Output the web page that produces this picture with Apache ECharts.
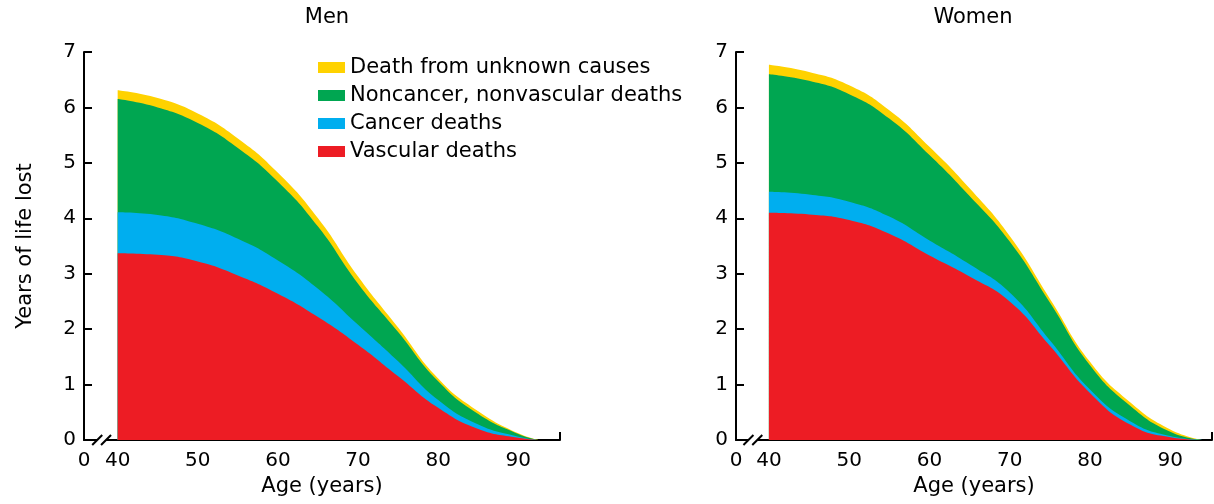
<!DOCTYPE html>
<html>
<head>
<meta charset="utf-8">
<script src="https://cdn.jsdelivr.net/npm/echarts@6/dist/echarts.min.js"></script>
<style>
  html, body { margin: 0; padding: 0; background: #fff; }
  #chart { width: 1214px; height: 504px; }
</style>
</head>
<body>
<div id="chart"></div>
<script>
// ages (x) for each panel
var menAges = [40, 45, 50, 55, 60, 65, 70, 75, 80, 85, 90, 92.5];
var womenAges = [40, 45, 50, 55, 60, 65, 70, 75, 80, 85, 90, 94];

// years of life lost by cause, bottom to top
var menVascular  = [3.37, 3.34, 3.22, 2.97, 2.64, 2.22, 1.72, 1.15, 0.58, 0.20, 0.04, 0];
var menCancer    = [0.74, 0.72, 0.68, 0.66, 0.60, 0.51, 0.36, 0.27, 0.14, 0.08, 0.02, 0];
var menNoncancer = [2.04, 1.94, 1.82, 1.64, 1.42, 1.12, 0.74, 0.53, 0.34, 0.19, 0.05, 0];
var menUnknown   = [0.16, 0.17, 0.17, 0.17, 0.16, 0.15, 0.13, 0.08, 0.05, 0.05, 0.01, 0];

var womenVascular  = [4.10, 4.07, 3.97, 3.72, 3.33, 2.95, 2.50, 1.70, 0.85, 0.28, 0.05, 0];
var womenCancer    = [0.38, 0.36, 0.33, 0.31, 0.27, 0.22, 0.16, 0.10, 0.06, 0.06, 0.02, 0];
var womenNoncancer = [2.12, 2.05, 1.94, 1.77, 1.54, 1.23, 0.92, 0.68, 0.44, 0.28, 0.08, 0];
var womenUnknown   = [0.17, 0.16, 0.16, 0.15, 0.15, 0.14, 0.10, 0.07, 0.06, 0.06, 0.04, 0];

var causes = ['Vascular deaths', 'Cancer deaths', 'Noncancer, nonvascular deaths', 'Death from unknown causes'];
var colors = ['#ED1C24', '#00AEEF', '#00A651', '#FFD200'];
var xTicks = [40, 50, 60, 70, 80, 90];

var FONT = 'DejaVu Sans';
var chart = echarts.init(document.getElementById('chart'));

// running totals, so each cause is drawn as an area down to 0 under the ones above it
function cumulative(sets) {
    var out = [], run = sets[0].map(function () { return 0; });
    sets.forEach(function (s) {
        run = run.map(function (v, i) { return +(v + s[i]).toFixed(3); });
        out.push(run);
    });
    return out;
}

function xAxisFor(idx, min) {
    return {
        gridIndex: idx,
        type: 'value',
        min: min,
        max: 95.2,
        name: 'Age (years)',
        nameLocation: 'middle',
        nameGap: 35,
        nameTextStyle: { fontFamily: FONT, fontSize: 21, color: '#000' },
        splitLine: { show: false },
        axisLine: { lineStyle: { color: '#000', width: 2 } },
        axisTick: { show: true, inside: true, length: 8, customValues: [95.2], lineStyle: { color: '#000', width: 2 } },
        axisLabel: {
            customValues: [min].concat(xTicks),
            margin: 11,
            fontFamily: FONT, fontSize: 20, color: '#000',
            formatter: function (v) { return v < 40 ? '0' : String(v); }
        }
    };
}

function yAxisFor(idx, withName) {
    return {
        gridIndex: idx,
        type: 'value',
        min: 0, max: 7, interval: 1,
        name: withName ? 'Years of life lost' : '',
        nameLocation: 'middle',
        nameGap: 48,
        nameTextStyle: { fontFamily: FONT, fontSize: 21, color: '#000' },
        splitLine: { show: false },
        axisLine: { show: true, lineStyle: { color: '#000', width: 2 } },
        axisTick: { show: true, inside: true, length: 8, lineStyle: { color: '#000', width: 2 } },
        axisLabel: { margin: 8, fontFamily: FONT, fontSize: 20, color: '#000' }
    };
}

var series = [];
function addPanel(idx, ages, sets) {
    var tops = cumulative(sets);
    // top band first so lower bands paint over it
    for (var i = causes.length - 1; i >= 0; i--) {
        series.push({
            name: causes[i], type: 'line', xAxisIndex: idx, yAxisIndex: idx,
            smooth: 0.5, symbol: 'none', lineStyle: { width: 0 },
            areaStyle: { color: colors[i], opacity: 1 }, itemStyle: { color: colors[i] },
            data: ages.map(function (a, k) { return [a, tops[i][k]]; })
        });
    }
}
addPanel(0, menAges, [menVascular, menCancer, menNoncancer, menUnknown]);
addPanel(1, womenAges, [womenVascular, womenCancer, womenNoncancer, womenUnknown]);

var option = {
    animation: false,
    title: [
        { text: 'Men', left: 322, top: 2, textAlign: 'center', textStyle: { fontFamily: FONT, fontSize: 21, fontWeight: 'normal', color: '#000' } },
        { text: 'Women', left: 968, top: 2, textAlign: 'center', textStyle: { fontFamily: FONT, fontSize: 21, fontWeight: 'normal', color: '#000' } }
    ],
    legend: {
        data: causes.slice().reverse(),
        orient: 'vertical',
        left: 313, top: 52,
        icon: 'rect', itemWidth: 27, itemHeight: 11, itemGap: 7,
        textStyle: { fontFamily: FONT, fontSize: 21, color: '#000' }
    },
    grid: [
        { left: 84, top: 52, width: 476, height: 388 },
        { left: 736, top: 52, width: 476, height: 388 }
    ],
    xAxis: [xAxisFor(0, 35.8), xAxisFor(1, 35.9)],
    yAxis: [yAxisFor(0, true), yAxisFor(1, false)],
    series: series
};
chart.setOption(option);

// axis break marks "//" between 0 and 40
var marks = [];
[0, 1].forEach(function (g) {
    var a = chart.convertToPixel({ gridIndex: g }, [37.45, 0]);
    var b = chart.convertToPixel({ gridIndex: g }, [38.55, 0]);
    marks.push({ type: 'rect', shape: { x: a[0], y: a[1] - 2, width: b[0] - a[0], height: 4 }, style: { fill: '#fff' }, z: 100 });
    [a, b].forEach(function (p) {
        marks.push({ type: 'line', shape: { x1: p[0] - 5, y1: p[1] + 5, x2: p[0] + 5, y2: p[1] - 5 }, style: { stroke: '#000', lineWidth: 2 }, z: 101 });
    });
});
chart.setOption({ graphic: marks });
</script>
</body>
</html>
